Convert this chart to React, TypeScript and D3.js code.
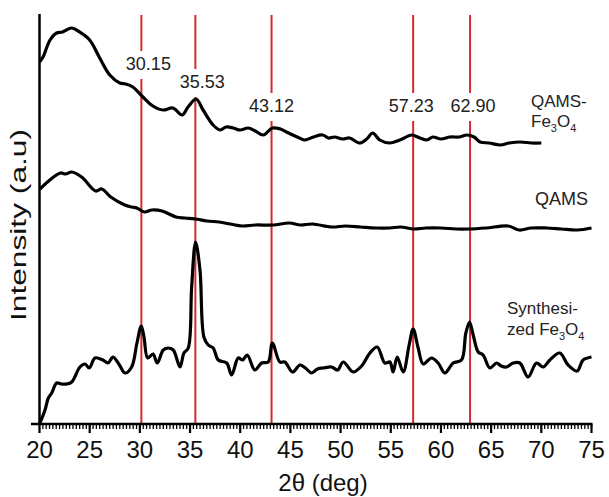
import * as d3 from "d3";

// 2theta (deg) / intensity (a.u., stacked offsets as plotted)
const qamsFe3O4: [number, number][] = [
  [20.0, 362], [20.35, 367], [21.05, 384], [21.7, 391], [22.3, 392], [23.2, 396],
  [24.0, 392], [25.0, 384], [26.0, 366], [27.0, 349], [28.0, 341], [28.6, 340],
  [29.3, 337], [30.3, 327], [31.3, 318], [32.3, 314], [33.3, 316], [34.2, 309],
  [34.8, 317], [35.6, 325], [36.3, 314], [37.3, 299], [38.0, 294], [38.6, 297],
  [39.3, 296], [40.0, 294], [40.8, 296], [41.5, 293], [42.3, 289], [43.2, 296],
  [44.0, 295], [44.6, 292], [45.9, 286], [46.45, 284], [47.3, 287], [48.2, 289],
  [48.8, 286], [49.4, 287], [50.2, 285], [50.9, 286], [51.9, 281], [52.6, 285],
  [53.2, 291], [53.9, 284], [54.9, 281], [55.9, 284], [57.1, 289], [57.9, 286],
  [58.6, 284], [59.2, 287], [60.0, 285], [60.9, 287], [61.8, 287], [62.6, 289],
  [63.3, 287], [63.9, 282], [64.8, 281], [65.9, 279], [66.8, 281], [67.9, 282],
  [69.0, 281], [70.0, 281],
];

const qams: [number, number][] = [
  [20.05, 235], [21.15, 245], [22.1, 251], [22.6, 250], [23.2, 252], [24.2, 247],
  [25.6, 233], [26.2, 235], [27.1, 227], [28.5, 219], [29.2, 217], [29.7, 216],
  [30.45, 212], [31.2, 214], [32.2, 213], [33.6, 207], [34.5, 206], [35.5, 205],
  [36.7, 203], [37.9, 202], [39.0, 200], [40.2, 198], [41.5, 199], [43.3, 199],
  [44.9, 201], [46.0, 199], [47.2, 200], [49.1, 197], [50.5, 198], [52.0, 197],
  [53.5, 196], [54.9, 196], [56.0, 197], [57.3, 195], [58.5, 196], [60.0, 196],
  [61.5, 195], [62.8, 195], [64.5, 196], [66.7, 198], [67.8, 194], [69.0, 196],
  [70.5, 196], [72.0, 195], [73.6, 194], [75.0, 196],
];

const synthesized: [number, number][] = [
  [20.0, 0], [20.55, 14], [20.88, 26], [21.22, 31], [21.71, 41], [22.2, 40],
  [22.71, 40], [23.21, 42], [24.03, 57], [24.53, 60], [24.96, 56], [25.53, 66],
  [26.32, 64], [26.82, 61], [27.32, 67], [27.9, 60], [28.52, 51], [29.18, 57],
  [29.71, 81], [30.14, 98], [30.41, 87], [30.78, 66], [31.31, 70], [31.73, 61],
  [32.33, 74], [32.83, 76], [33.33, 74], [34.0, 57], [34.39, 71], [34.82, 76],
  [35.16, 137], [35.55, 182], [35.99, 154], [36.38, 87], [36.81, 79], [37.31, 76],
  [37.81, 64], [38.65, 61], [39.14, 49], [39.8, 66], [40.24, 64], [40.7, 69],
  [41.46, 54], [42.13, 61], [42.79, 62], [43.2, 81], [43.95, 62], [44.45, 62],
  [45.22, 52], [45.95, 59], [46.5, 56], [47.11, 51], [47.7, 55], [48.27, 56],
  [49.1, 57], [49.7, 54], [50.26, 62], [51.25, 52], [52.09, 58], [52.92, 71],
  [53.65, 77], [54.41, 61], [54.91, 62], [55.24, 52], [55.64, 67], [56.24, 52],
  [56.83, 79], [57.23, 95], [57.73, 76], [58.23, 60], [59.06, 66], [59.72, 61],
  [60.39, 51], [61.22, 61], [62.05, 64], [62.48, 91], [62.85, 102], [63.21, 89],
  [63.71, 72], [64.2, 69], [64.87, 56], [65.54, 61], [66.0, 58], [66.53, 57],
  [67.2, 61], [67.86, 61], [68.68, 47], [69.52, 61], [70.18, 57], [70.85, 64],
  [71.84, 71], [72.67, 59], [73.57, 53], [74.16, 64], [75.0, 67],
];

const peaks = [30.15, 35.53, 43.12, 57.23, 62.9];
const peakLabels = ["30.15", "35.53", "43.12", "57.23", "62.90"];
const majorTicks = d3.range(20, 76, 5);

const width = 609;
const height = 497;
const left = 39.5;
const right = 591.5;
const top = 14;
const bottom = 424;
const font = "'Liberation Sans', Arial, sans-serif";

// label baseline and small horizontal nudge for each peak label
const labelLayout = [
  { y: 70, dx: 7 },
  { y: 88, dx: 7 },
  { y: 112, dx: 0 },
  { y: 112, dx: -2 },
  { y: 112, dx: 3 },
];

export default function App() {
  const x = d3.scaleLinear().domain([20, 75]).range([left, right]);
  const y = d3.scaleLinear().domain([0, 410]).range([bottom, top]);
  const line = d3
    .line<[number, number]>()
    .x((d) => x(d[0]))
    .y((d) => y(d[1]))
    .curve(d3.curveCatmullRom.alpha(0.5));

  const minorTicks = d3.range(0, 55 * 3 + 1).map((i) => 20 + i / 3);

  return (
    <svg
      width={width}
      height={height}
      style={{ position: "absolute", left: 0, top: 0, background: "#fff" }}
      fontFamily={font}
    >
      {/* reference lines */}
      {peaks.map((p, i) => {
        const b = labelLayout[i].y;
        return (
          <g key={p} stroke="#d7282f" strokeWidth={2}>
            <line x1={x(p)} x2={x(p)} y1={top + 1} y2={b - 19} />
            <line x1={x(p)} x2={x(p)} y1={b + 9} y2={bottom} />
          </g>
        );
      })}
      {peaks.map((p, i) => (
        <text
          key={"l" + p}
          x={x(p) + labelLayout[i].dx}
          y={labelLayout[i].y}
          textAnchor="middle"
          fontSize={18}
          fill="#222"
        >
          {peakLabels[i]}
        </text>
      ))}

      {/* spectra */}
      {[qamsFe3O4, qams, synthesized].map((s, i) => (
        <path
          key={i}
          d={line(s) || ""}
          fill="none"
          stroke="#000"
          strokeWidth={3.2}
          strokeLinejoin="round"
        />
      ))}

      {/* axes */}
      <line x1={left} x2={left} y1={top} y2={bottom + 1} stroke="#000" strokeWidth={2.5} />
      <line x1={31} x2={right + 1} y1={bottom} y2={bottom} stroke="#000" strokeWidth={2.5} />
      {minorTicks.map((t, i) => (
        <line key={"m" + i} x1={x(t)} x2={x(t)} y1={bottom} y2={bottom + 5} stroke="#000" strokeWidth={1.3} />
      ))}
      {majorTicks.map((t) => (
        <g key={"t" + t}>
          <line x1={x(t)} x2={x(t)} y1={bottom} y2={bottom + 9} stroke="#000" strokeWidth={2.2} />
          <text x={x(t)} y={458} textAnchor="middle" fontSize={24} fill="#111">
            {t}
          </text>
        </g>
      ))}
      <text x={323} y={491} textAnchor="middle" fontSize={24} fill="#111">
        2θ (deg)
      </text>
      <text
        transform={`translate(26,${(top + bottom) / 2 + 6}) rotate(-90)`}
        textAnchor="middle"
        fontSize={22}
        fill="#111"
        textLength={192}
        lengthAdjust="spacingAndGlyphs"
      >
        Intensity (a.u)
      </text>

      {/* series labels */}
      <g fontSize={17} fill="#222">
        <text x={531} y={107}>QAMS-</text>
        <text x={531} y={127}>
          Fe<tspan fontSize={11} dy={5}>3</tspan>
          <tspan dy={-5}>O</tspan>
          <tspan fontSize={11} dy={5}>4</tspan>
        </text>
        <text x={535} y={205} fontSize={18}>QAMS</text>
        <text x={507} y={314}>Synthesi-</text>
        <text x={507} y={335}>
          zed Fe<tspan fontSize={11} dy={5}>3</tspan>
          <tspan dy={-5}>O</tspan>
          <tspan fontSize={11} dy={5}>4</tspan>
        </text>
      </g>
    </svg>
  );
}
